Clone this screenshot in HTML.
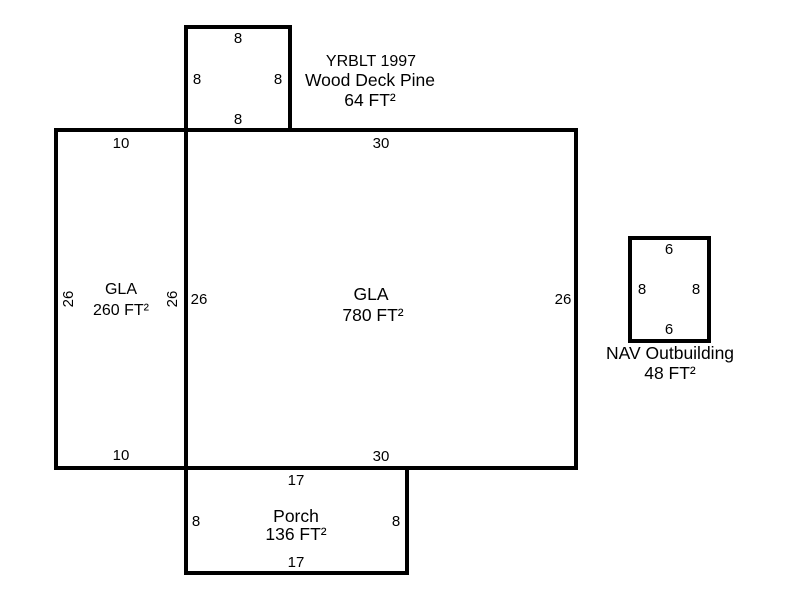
<!DOCTYPE html>
<html><head><style>html,body{margin:0;padding:0;background:#fff;}svg{display:block}</style></head>
<body>
<svg width="800" height="600" xmlns="http://www.w3.org/2000/svg" font-family="Liberation Sans, Arial, sans-serif" font-size="15" fill="#000">
<g fill="none" stroke="#000" stroke-width="4">
<rect x="186" y="27" width="104" height="103"/>
<rect x="56" y="130" width="130" height="338"/>
<rect x="186" y="130" width="390" height="338"/>
<rect x="186" y="468" width="221" height="105"/>
<rect x="630" y="238" width="79" height="103"/>
</g>
<g text-anchor="middle">
<text x="238" y="43">8</text>
<text x="197" y="84">8</text>
<text x="278" y="84">8</text>
<text x="238" y="124">8</text>
<text x="371" y="66" font-size="16">YRBLT 1997</text>
<text x="370" y="86" font-size="17.5">Wood Deck Pine</text>
<text x="370" y="106" font-size="17.5">64 FT²</text>
<text x="121" y="148">10</text>
<text x="381" y="148">30</text>
<text x="121" y="460">10</text>
<text x="381" y="461">30</text>
<text x="121" y="294" font-size="16">GLA</text>
<text x="121" y="315" font-size="16">260 FT²</text>
<text x="199" y="304">26</text>
<text x="563" y="304">26</text>
<text x="371" y="300" font-size="17.5">GLA</text>
<text x="373" y="321" font-size="17.5">780 FT²</text>
<text x="296" y="485">17</text>
<text x="196" y="526">8</text>
<text x="396" y="526">8</text>
<text x="296" y="522" font-size="17.5">Porch</text>
<text x="296" y="540" font-size="17.5">136 FT²</text>
<text x="296" y="567">17</text>
<text x="669" y="254">6</text>
<text x="642" y="294">8</text>
<text x="696" y="294">8</text>
<text x="669" y="334">6</text>
<text x="670" y="359" font-size="17.5">NAV Outbuilding</text>
<text x="670" y="379" font-size="17.5">48 FT²</text>
<text transform="translate(73,299) rotate(-90)">26</text>
<text transform="translate(177,299) rotate(-90)">26</text>
</g>
</svg>
</body></html>
